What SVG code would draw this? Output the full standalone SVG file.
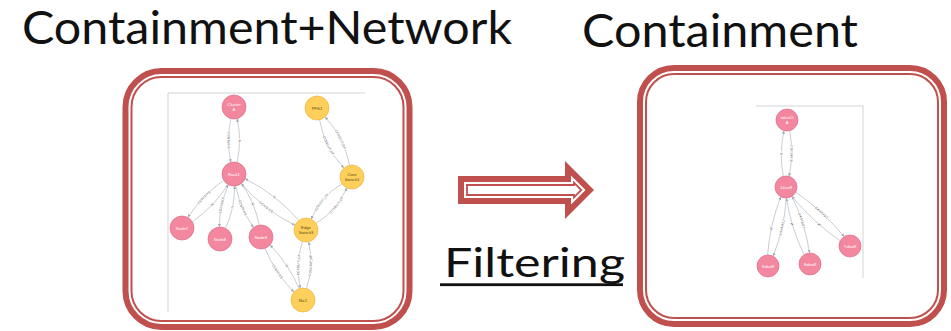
<svg xmlns="http://www.w3.org/2000/svg" width="951" height="331" viewBox="0 0 951 331">
  <defs>
    <style>
      .title { font-family: "Lato", "Liberation Sans", sans-serif; fill: #111; }
      .frame-thick { fill: none; stroke: #C0504D; stroke-width: 6; }
      .frame-thin { fill: none; stroke: #C0504D; stroke-width: 2; }
      .canvas-edge { stroke: #D3D3D3; stroke-width: 1; fill: none; }
      .rel { fill: none; stroke: #A5ABB6; stroke-width: 0.6; }
      .rel-label { font-family: "Liberation Sans", Arial, sans-serif; font-size: 3.2px; fill: #444; stroke: #fff; stroke-width: 1.3; paint-order: stroke; text-anchor: middle; }
      .pink { fill: #F2879F; stroke: #E06C8A; stroke-width: 0.7; }
      .yellow { fill: #FFCF5C; stroke: #EDB440; stroke-width: 0.7; }
      .lbl-w { font-family: "Liberation Sans", Arial, sans-serif; font-size: 4.2px; fill: #fff; text-anchor: middle; }
      .lbl-d { font-family: "Liberation Sans", Arial, sans-serif; font-size: 4.2px; fill: #5A4712; text-anchor: middle; }
    </style>
    <marker id="ah" viewBox="0 0 4 4" refX="4" refY="2" markerWidth="3.2" markerHeight="3.2" markerUnits="userSpaceOnUse" orient="auto-start-reverse">
      <path d="M0,0 L4,2 L0,4 z" fill="#A5ABB6"/>
    </marker>
  </defs>

  <rect width="951" height="331" fill="#fff"/>

  <!-- headings -->
  <text class="title" x="22" y="44" font-size="46" textLength="490" lengthAdjust="spacingAndGlyphs">Containment+Network</text>
  <text class="title" x="582" y="47" font-size="46" textLength="276" lengthAdjust="spacingAndGlyphs">Containment</text>

  <!-- panel frames (thick-thin double border) -->
  <g id="frame-left">
    <rect class="frame-thick" x="125.5" y="71" width="284" height="256" rx="36"/>
    <rect class="frame-thin" x="131.5" y="77" width="272" height="244" rx="30"/>
  </g>
  <g id="frame-right">
    <rect class="frame-thick" x="640" y="68" width="304" height="256" rx="34"/>
    <rect class="frame-thin" x="646" y="74" width="292" height="244" rx="28"/>
  </g>

  <!-- block arrow with double outline -->
  <g id="filter-arrow">
    <polygon points="458,176 565,176 565,161 594,190 565,219 565,204 458,204" fill="#C0504D"/>
    <polygon points="464,182 571,182 571,175.5 585.5,190 571,204.5 571,198 464,198" fill="#fff"/>
    <polygon points="467,185 574,185 574,182.7 581.3,190 574,197.3 574,195 467,195" fill="#fff" stroke="#C0504D" stroke-width="1.8" stroke-linejoin="miter"/>
  </g>
  <g id="filter-label">
    <text class="title" x="444" y="277" font-size="40" textLength="181" lengthAdjust="spacingAndGlyphs">Filtering</text>
    <rect x="440" y="283.3" width="183" height="2.8" fill="#111"/>
  </g>

  <!-- canvas borders of the two graph views -->
  <path class="canvas-edge" d="M168,312 V93 H365"/>
  <path class="canvas-edge" d="M756,106 H863 V278"/>

  <g id="connectors">
    <!-- full graph -->
    <g id="connectors-full">
      <path id="l1a" class="rel" d="M230.89,118.59 Q226,140.5 230.89,162.41" marker-end="url(#ah)"/>
      <path id="l1b" class="rel" d="M237.11,118.59 Q242,140.5 237.11,162.41" marker-start="url(#ah)"/>
      <path id="l2a" class="rel" d="M319.47,119.74 Q324.69,147.48 343.98,168.07" marker-end="url(#ah)"/>
      <path id="l2b" class="rel" d="M325.02,116.93 Q344.31,137.52 349.53,165.26" marker-start="url(#ah)"/>
      <path id="l3a" class="rel" d="M192.28,221.81 Q213.76,206.55 228.20,184.51" marker-end="url(#ah)"/>
      <path id="l3b" class="rel" d="M187.80,217.50 Q202.24,195.45 223.72,180.19" marker-start="url(#ah)"/>
      <path id="l4a" class="rel" d="M225.48,228.33 Q234.82,208.19 234.60,185.99" marker-end="url(#ah)"/>
      <path id="l4b" class="rel" d="M219.40,227.02 Q219.18,204.82 228.52,184.68" marker-start="url(#ah)"/>
      <path id="l5a" class="rel" d="M235.71,185.88 Q240.15,208.65 253.58,227.57" marker-end="url(#ah)"/>
      <path id="l5b" class="rel" d="M241.42,183.43 Q254.85,202.35 259.29,225.12" marker-start="url(#ah)"/>
      <path id="l6a" class="rel" d="M241.24,183.57 Q263.86,209.89 294.94,225.34" marker-end="url(#ah)"/>
      <path id="l6b" class="rel" d="M245.06,178.66 Q276.14,194.11 298.76,220.43" marker-start="url(#ah)"/>
      <path id="l7a" class="rel" d="M315.95,223.29 Q337.31,210.71 346.75,187.79" marker-end="url(#ah)"/>
      <path id="l7b" class="rel" d="M311.25,219.21 Q320.69,196.29 342.05,183.71" marker-start="url(#ah)"/>
      <path id="l8a" class="rel" d="M306.60,288.55 Q313.99,265.41 308.61,241.71" marker-end="url(#ah)"/>
      <path id="l8b" class="rel" d="M300.39,288.29 Q295.01,264.59 302.40,241.45" marker-start="url(#ah)"/>
      <path id="l9a" class="rel" d="M264.84,248.37 Q275.34,272.94 293.98,292.08" marker-end="url(#ah)"/>
      <path id="l9b" class="rel" d="M270.02,244.92 Q288.66,264.06 299.16,288.63" marker-start="url(#ah)"/>

      <text class="rel-label" dy="1.1"><textPath href="#l1a" startOffset="50%">CONTAINS</textPath></text>
      <text class="rel-label" dy="1.1"><textPath href="#l1b" startOffset="50%">IN</textPath></text>
      <text class="rel-label" dy="1.1"><textPath href="#l2a" startOffset="50%">CONDUIT_OF</textPath></text>
      <text class="rel-label" dy="1.1"><textPath href="#l2b" startOffset="50%">CONDUIT_OF</textPath></text>
      <text class="rel-label" dy="1.1"><textPath href="#l3a" startOffset="50%">IN</textPath></text>
      <text class="rel-label" dy="1.1"><textPath href="#l3b" startOffset="50%">CONTAINS</textPath></text>
      <text class="rel-label" dy="1.1"><textPath href="#l4a" startOffset="50%">IN</textPath></text>
      <text class="rel-label" dy="1.1"><textPath href="#l4b" startOffset="50%">CONTAINS</textPath></text>
      <text class="rel-label" dy="1.1"><textPath href="#l5a" startOffset="50%">CONTAINS</textPath></text>
      <text class="rel-label" dy="1.1"><textPath href="#l5b" startOffset="50%">IN</textPath></text>
      <text class="rel-label" dy="1.1"><textPath href="#l6a" startOffset="50%">CONTAINS</textPath></text>
      <text class="rel-label" dy="1.1"><textPath href="#l6b" startOffset="50%">IN</textPath></text>
      <text class="rel-label" dy="1.1"><textPath href="#l7a" startOffset="58%">CONDUIT_OF</textPath></text>
      <text class="rel-label" dy="1.1"><textPath href="#l7b" startOffset="42%">CONDUIT_OF</textPath></text>
      <text class="rel-label" dy="1.1"><textPath href="#l8a" startOffset="50%">CONDUIT_OF</textPath></text>
      <text class="rel-label" dy="1.1"><textPath href="#l8b" startOffset="50%">CONDUIT_OF</textPath></text>
      <text class="rel-label" dy="1.1"><textPath href="#l9a" startOffset="50%">CONTAINS</textPath></text>
      <text class="rel-label" dy="1.1"><textPath href="#l9b" startOffset="50%">IN</textPath></text>
    </g>

    <!-- containment-only graph, shown flipped horizontally -->
    <g id="connectors-containment" transform="matrix(-1 0 0 1 1600 0)">
      <path id="r1a" class="rel" d="M810.31,130.67 Q806,153.61 810.99,176.41" marker-end="url(#ah)"/>
      <path id="r1b" class="rel" d="M816.01,130.59 Q821,153.39 816.69,176.33" marker-start="url(#ah)"/>
      <path id="r3a" class="rel" d="M759.75,240.89 Q787.08,222.01 808.12,196.30" marker-end="url(#ah)"/>
      <path id="r3b" class="rel" d="M755.88,236.70 Q776.92,210.99 804.25,192.11" marker-start="url(#ah)"/>
      <path id="r4a" class="rel" d="M795.88,254.70 Q809.16,227.73 813.56,198.00" marker-end="url(#ah)"/>
      <path id="r4b" class="rel" d="M790.44,253.00 Q794.84,223.27 808.12,196.30" marker-start="url(#ah)"/>
      <path id="r5a" class="rel" d="M813.58,198.00 Q815.69,228.17 826.86,256.27" marker-end="url(#ah)"/>
      <path id="r5b" class="rel" d="M819.14,196.73 Q830.31,224.83 832.42,255.00" marker-start="url(#ah)"/>

      <text class="rel-label" dy="1.1"><textPath href="#r1a" startOffset="50%">CONTAINS</textPath></text>
      <text class="rel-label" dy="1.1"><textPath href="#r1b" startOffset="50%">IN</textPath></text>
      <text class="rel-label" dy="1.1"><textPath href="#r3a" startOffset="40%">IN</textPath></text>
      <text class="rel-label" dy="1.1"><textPath href="#r3b" startOffset="50%">CONTAINS</textPath></text>
      <text class="rel-label" dy="1.1"><textPath href="#r4a" startOffset="55%">IN</textPath></text>
      <text class="rel-label" dy="1.1"><textPath href="#r4b" startOffset="56%">CONTAINS</textPath></text>
      <text class="rel-label" dy="1.1"><textPath href="#r5a" startOffset="50%">CONTAINS</textPath></text>
      <text class="rel-label" dy="1.1"><textPath href="#r5b" startOffset="55%">IN</textPath></text>
    </g>
  </g>

  <!-- nodes of the full graph -->
  <g id="node-cluster-a"><circle class="pink" cx="234" cy="107" r="12"/><text class="lbl-w" x="234" y="106.2">Cluster</text><text class="lbl-w" x="234" y="110.8">A</text></g>
  <g id="node-rack1"><circle class="pink" cx="234" cy="174" r="12"/><text class="lbl-w" x="234" y="175.5">Rack1</text></g>
  <g id="node-node7"><circle class="pink" cx="182" cy="228" r="12"/><text class="lbl-w" x="182" y="229.5">Node7</text></g>
  <g id="node-node8"><circle class="pink" cx="220" cy="239" r="12"/><text class="lbl-w" x="220" y="240.5">Node8</text></g>
  <g id="node-node9"><circle class="pink" cx="261" cy="237" r="12"/><text class="lbl-w" x="261" y="238.5">Node9</text></g>
  <g id="node-pfs1"><circle class="yellow" cx="317" cy="108" r="12"/><text class="lbl-d" x="317" y="109.5">PFS1</text></g>
  <g id="node-core-switch1"><circle class="yellow" cx="352" cy="177" r="12"/><text class="lbl-d" x="352" y="176.2">Core</text><text class="lbl-d" x="352" y="180.8">Switch1</text></g>
  <g id="node-edge-switch3"><circle class="yellow" cx="306" cy="230" r="12"/><text class="lbl-d" x="306" y="229.2">Edge</text><text class="lbl-d" x="306" y="233.8">Switch3</text></g>
  <g id="node-nic1"><circle class="yellow" cx="303" cy="300" r="12"/><text class="lbl-d" x="303" y="301.5">Nic1</text></g>

  <!-- nodes of the containment graph (flipped) -->
  <g transform="matrix(-1 0 0 1 1600 0)">
    <g id="c-node-cluster-a"><circle class="pink" cx="813" cy="120" r="11"/><text class="lbl-w" x="813" y="119.3">Cluster</text><text class="lbl-w" x="813" y="123.9">A</text></g>
    <g id="c-node-rack1"><circle class="pink" cx="814" cy="187" r="11"/><text class="lbl-w" x="814" y="188.5">Rack1</text></g>
    <g id="c-node-node7"><circle class="pink" cx="750" cy="246" r="11"/><text class="lbl-w" x="750" y="247.5">Node7</text></g>
    <g id="c-node-node8"><circle class="pink" cx="790" cy="264" r="11"/><text class="lbl-w" x="790" y="265.5">Node8</text></g>
    <g id="c-node-node9"><circle class="pink" cx="832" cy="266" r="11"/><text class="lbl-w" x="832" y="267.5">Node9</text></g>
  </g>
</svg>
